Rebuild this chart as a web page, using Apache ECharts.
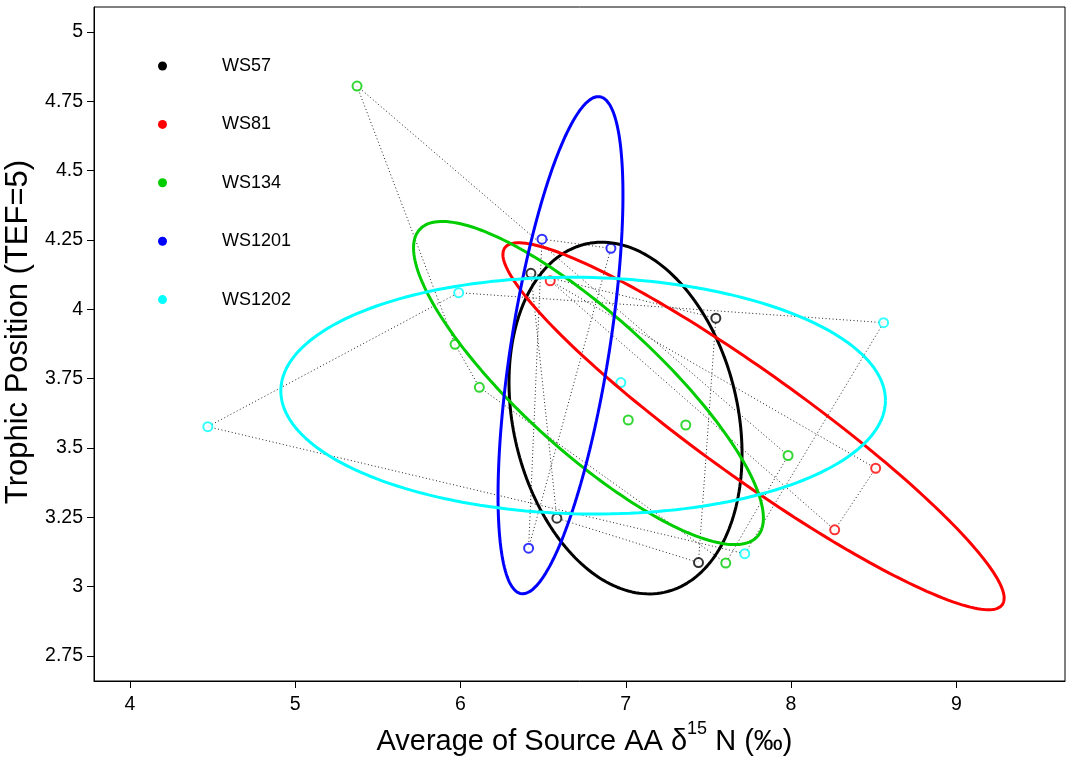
<!DOCTYPE html>
<html><head><meta charset="utf-8">
<script src="https://cdn.jsdelivr.net/npm/echarts@6/dist/echarts.min.js"></script>
<style>html,body{margin:0;padding:0;background:#fff}#c{width:1066px;height:761px}</style>
</head><body><div id="c"></div>
<script>
// ---- data ----
const groupNames = ['WS57', 'WS81', 'WS134', 'WS1201', 'WS1202'];
const groupColors = ['#000000', '#FF0000', '#00CD00', '#0000FF', '#00FFFF'];
const ws57 = [[6.426, 4.130], [7.545, 3.968], [6.583, 3.247], [7.440, 3.087]];
const ws81 = [[6.543, 4.103], [8.512, 3.427], [8.264, 3.205]];
const ws134 = [[5.374, 4.805], [5.967, 3.874], [6.114, 3.719], [7.015, 3.601], [7.363, 3.583], [7.982, 3.473], [7.605, 3.085]];
const ws1201 = [[6.493, 4.253], [6.910, 4.220], [6.412, 3.139]];
const ws1202 = [[4.471, 3.577], [5.989, 4.060], [6.970, 3.736], [8.560, 3.952], [7.720, 3.119]];
const xTicks = [4, 5, 6, 7, 8, 9];
const yTicks = [2.75, 3, 3.25, 3.5, 3.75, 4, 4.25, 4.5, 4.75, 5];
const groupData = [ws57, ws81, ws134, ws1201, ws1202];

// convex hull (monotone chain), closed
function hull(pts) {
  const p = pts.slice().sort((a, b) => a[0] - b[0] || a[1] - b[1]);
  const cross = (o, a, b) => (a[0] - o[0]) * (b[1] - o[1]) - (a[1] - o[1]) * (b[0] - o[0]);
  const lower = [], upper = [];
  for (const q of p) { while (lower.length >= 2 && cross(lower[lower.length - 2], lower[lower.length - 1], q) <= 0) lower.pop(); lower.push(q); }
  for (let i = p.length - 1; i >= 0; i--) { const q = p[i]; while (upper.length >= 2 && cross(upper[upper.length - 2], upper[upper.length - 1], q) <= 0) upper.pop(); upper.push(q); }
  upper.pop(); lower.pop();
  const h = lower.concat(upper);
  h.push(h[0]);
  return h;
}
// small-sample corrected standard ellipse (SEAc)
function ellipse(pts) {
  const n = pts.length;
  let mx = 0, my = 0;
  pts.forEach(p => { mx += p[0]; my += p[1]; });
  mx /= n; my /= n;
  let a = 0, b = 0, d = 0;
  pts.forEach(p => { const dx = p[0] - mx, dy = p[1] - my; a += dx * dx; b += dx * dy; d += dy * dy; });
  const f = 1 / (n - 1) * (n - 1) / (n - 2);
  a *= f; b *= f; d *= f;
  const tr = a + d, det = a * d - b * b;
  const disc = Math.sqrt(Math.max(0, tr * tr / 4 - det));
  const l1 = tr / 2 + disc, l2 = Math.max(0, tr / 2 - disc);
  const th = 0.5 * Math.atan2(2 * b, a - d);
  const r1 = Math.sqrt(l1), r2 = Math.sqrt(l2);
  const out = [];
  for (let i = 0; i <= 200; i++) {
    const t = 2 * Math.PI * i / 200;
    const u = r1 * Math.cos(t), v = r2 * Math.sin(t);
    out.push([mx + u * Math.cos(th) - v * Math.sin(th), my + u * Math.sin(th) + v * Math.cos(th)]);
  }
  return out;
}

const font = 'Liberation Sans, Arial, Helvetica, sans-serif';
const series = [];
groupNames.forEach((g, i) => {
  series.push({
    name: g, type: 'line', data: hull(groupData[i]), showSymbol: false, symbol: 'none',
    lineStyle: { color: '#222', width: 1, type: [1, 2.5] }, z: 1, silent: true
  });
});
groupNames.forEach((g, i) => {
  series.push({
    name: g, type: 'scatter', data: groupData[i], symbol: 'emptyCircle', symbolSize: 9,
    itemStyle: { color: groupColors[i], borderColor: groupColors[i], borderWidth: 1 }, z: 2
  });
});
groupNames.forEach((g, i) => {
  series.push({
    name: g, type: 'line', data: ellipse(groupData[i]), showSymbol: false, symbol: 'none',
    lineStyle: { color: groupColors[i], width: 3 }, z: 3, silent: true
  });
});

const chart = echarts.init(document.getElementById('c'), null, { renderer: 'canvas' });
chart.setOption({
  animation: false,
  backgroundColor: '#fff',
  color: groupColors,
  grid: { left: 94, right: 1, top: 7, bottom: 80, show: true, borderColor: '#000', borderWidth: 1, outerBoundsMode: 'none' },
  legend: {
    orient: 'vertical', left: 153, top: 52, itemGap: 40.4, itemWidth: 9, itemHeight: 9,
    icon: 'circle', selectedMode: false,
    data: groupNames.map((g, i) => ({ name: g, icon: 'circle', itemStyle: { color: groupColors[i], borderWidth: 0 } })),
    textStyle: { fontFamily: font, fontSize: 18, color: '#000', padding: [0, 0, 0, 50], lineHeight: 18 }
  },
  xAxis: {
    type: 'value', min: 3.7824, max: 9.6576,
    splitLine: { show: false },
    axisLine: { show: true, onZero: false, lineStyle: { color: '#000', width: 1 } },
    axisTick: { show: true, customValues: xTicks, length: 7, lineStyle: { color: '#000' } },
    axisLabel: { customValues: xTicks, fontFamily: font, fontSize: 19.5, color: '#000', margin: 14, formatter: v => String(v) },
    name: '{a|Average of Source AA δ}{s|15}{a| N (‰)}',
    nameLocation: 'middle', nameGap: 39,
    nameTextStyle: {
      fontFamily: font, color: '#000', padding: [0, 0, 0, 10],
      rich: {
        a: { fontFamily: font, fontSize: 29, color: '#000', lineHeight: 36, verticalAlign: 'bottom' },
        s: { fontFamily: font, fontSize: 18, color: '#000', lineHeight: 36, verticalAlign: 'top' }
      }
    }
  },
  yAxis: {
    type: 'value', min: 2.66, max: 5.09,
    splitLine: { show: false },
    axisLine: { show: true, onZero: false, lineStyle: { color: '#000', width: 1 } },
    axisTick: { show: true, customValues: yTicks, length: 7, lineStyle: { color: '#000' } },
    axisLabel: { customValues: yTicks, fontFamily: font, fontSize: 19.5, color: '#000', margin: 11, formatter: v => String(v) },
    name: 'Trophic Position (TEF=5)',
    nameLocation: 'middle', nameGap: 52, nameRotate: 90,
    nameTextStyle: { fontFamily: font, fontSize: 31, color: '#000', padding: [0, 0, 0, 24] }
  },
  series: series
});
</script></body></html>
